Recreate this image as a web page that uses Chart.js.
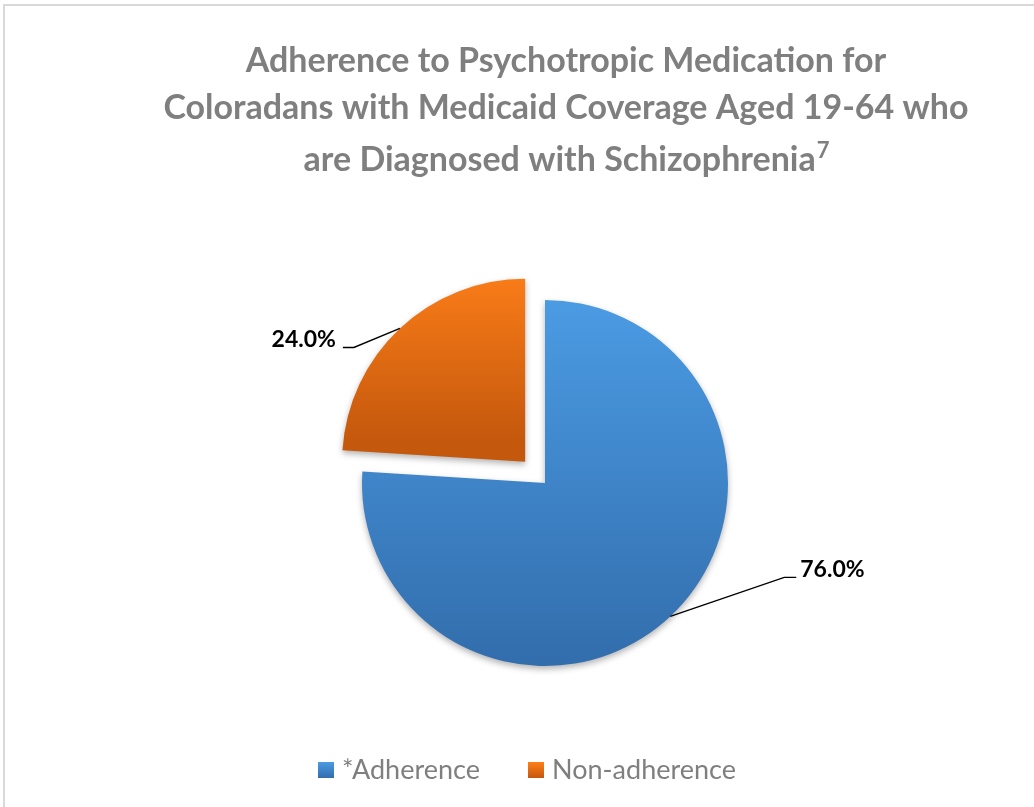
<!DOCTYPE html>
<html>
<head>
<meta charset="utf-8">
<script src="https://cdn.jsdelivr.net/npm/chart.js@4.4.1/dist/chart.umd.min.js"></script>
<style>
  html, body { margin: 0; padding: 0; background: #ffffff; }
  canvas { display: block; }
</style>
</head>
<body>
<canvas id="chart" width="1034" height="807"></canvas>
<script>
// Share of members, percent
const categories = ['*Adherence', 'Non-adherence'];
const shares = [76.0, 24.0];

const titleLines = [
  'Adherence to Psychotropic Medication for',
  'Coloradans with Medicaid Coverage Aged 19-64 who',
  'are Diagnosed with Schizophrenia'
];
const titleNote = '7';

// Slice fills run from a light top to a deeper bottom
const sliceTop = ['#4b9be3', '#ff8019'];
const sliceBottom = ['#326dac', '#c4580d'];
// Chart.js arc offset; the slice is pushed out by a quarter of this
const explode = [0, 116];

const FONT = 'Lato, "Open Sans", sans-serif';
const GREY = '#7f7f7f';

// Geometry of one slice as Chart.js lays it out
function sliceGeometry(chart, i) {
  const area = chart.chartArea;
  const cx = (area.left + area.right) / 2;
  const cy = (area.top + area.bottom) / 2;
  const r = (Math.min(area.right - area.left, area.bottom - area.top) - Math.max(...explode)) / 2;
  const total = shares.reduce((a, b) => a + b, 0);
  let start = -Math.PI / 2;
  for (let k = 0; k < i; k++) start += shares[k] / total * Math.PI * 2;
  const end = start + shares[i] / total * Math.PI * 2;
  const mid = (start + end) / 2;
  const shift = explode[i] / 4;
  return { cx: cx + Math.cos(mid) * shift, cy: cy + Math.sin(mid) * shift, r, start, end, mid };
}

function sliceFill(c) {
  const chart = c.chart;
  const i = c.dataIndex;
  if (!chart.chartArea || i === undefined) return sliceTop[i || 0];
  const g = sliceGeometry(chart, i);
  let top = g.cy, bottom = g.cy;
  for (let t = 0; t <= 60; t++) {
    const a = g.start + (g.end - g.start) * t / 60;
    const y = g.cy + Math.sin(a) * g.r;
    top = Math.min(top, y);
    bottom = Math.max(bottom, y);
  }
  const grad = chart.ctx.createLinearGradient(0, top, 0, bottom);
  grad.addColorStop(0, sliceTop[i]);
  grad.addColorStop(1, sliceBottom[i]);
  return grad;
}

// Soft drop shadow under the slices
const sliceShadow = {
  id: 'sliceShadow',
  beforeDatasetsDraw(chart) {
    const ctx = chart.ctx;
    ctx.save();
    ctx.shadowColor = 'rgba(0,0,0,0.30)';
    ctx.shadowBlur = 6;
    ctx.shadowOffsetX = 0;
    ctx.shadowOffsetY = 3;
  },
  afterDatasetsDraw(chart) {
    chart.ctx.restore();
  }
};

// Frame, title, value labels with leader lines, legend
const decorations = {
  id: 'decorations',
  beforeDraw(chart) {
    const ctx = chart.ctx;
    ctx.save();
    ctx.fillStyle = '#ffffff';
    ctx.fillRect(0, 0, chart.width, chart.height);
    ctx.strokeStyle = '#d9d9d9';
    ctx.lineWidth = 2;
    ctx.beginPath();
    ctx.moveTo(4, chart.height);
    ctx.lineTo(4, 5);
    ctx.lineTo(chart.width, 5);
    ctx.stroke();
    ctx.restore();
  },
  afterDraw(chart) {
    const ctx = chart.ctx;
    ctx.save();

    // Title
    const titleFont = 'bold 34px ' + FONT;
    const noteFont = 'bold 22px ' + FONT;
    const centre = 566;
    const baselines = [72, 119, 171];
    ctx.fillStyle = GREY;
    ctx.textBaseline = 'alphabetic';
    ctx.textAlign = 'center';
    ctx.font = titleFont;
    for (let k = 0; k < titleLines.length - 1; k++) {
      ctx.fillText(titleLines[k], centre, baselines[k]);
    }
    const last = titleLines[titleLines.length - 1];
    const wLast = ctx.measureText(last).width;
    ctx.font = noteFont;
    const wNote = ctx.measureText(titleNote).width;
    const x0 = centre - (wLast + wNote) / 2;
    ctx.textAlign = 'left';
    ctx.font = titleFont;
    ctx.fillText(last, x0, baselines[2]);
    ctx.font = noteFont;
    ctx.fillText(titleNote, x0 + wLast + 1, baselines[2] - 13);

    // Value labels
    const elbow = [[114, -39, 12], [-46, 19, -11]];
    ctx.strokeStyle = '#000000';
    ctx.lineWidth = 1.4;
    ctx.fillStyle = '#000000';
    ctx.font = 'bold 23px ' + FONT;
    ctx.textBaseline = 'middle';
    shares.forEach((v, i) => {
      const g = sliceGeometry(chart, i);
      const px = g.cx + Math.cos(g.mid) * g.r;
      const py = g.cy + Math.sin(g.mid) * g.r;
      const [dx, dy, run] = elbow[i];
      const ex = px + dx, ey = py + dy;
      ctx.beginPath();
      ctx.moveTo(px, py);
      ctx.lineTo(ex, ey);
      ctx.lineTo(ex + run, ey);
      ctx.stroke();
      const text = v.toFixed(1) + '%';
      if (run > 0) {
        ctx.textAlign = 'left';
        ctx.fillText(text, ex + run + 4, ey - 8);
      } else {
        ctx.textAlign = 'right';
        ctx.fillText(text, ex + run - 7, ey - 8);
      }
    });

    // Legend
    const boxX = [318, 528];
    const boxY = 762, box = 16;
    ctx.font = '27px ' + FONT;
    ctx.textAlign = 'left';
    ctx.textBaseline = 'middle';
    categories.forEach((name, i) => {
      const grad = ctx.createLinearGradient(0, boxY, 0, boxY + box);
      grad.addColorStop(0, sliceTop[i]);
      grad.addColorStop(1, sliceBottom[i]);
      ctx.fillStyle = grad;
      ctx.fillRect(boxX[i], boxY, box, box);
      ctx.fillStyle = GREY;
      ctx.fillText(name, boxX[i] + box + 8, boxY + box / 2);
    });

    ctx.restore();
  }
};

new Chart(document.getElementById('chart'), {
  type: 'pie',
  data: {
    labels: categories,
    datasets: [{
      data: shares,
      backgroundColor: sliceFill,
      borderWidth: 0,
      offset: explode
    }]
  },
  options: {
    responsive: false,
    animation: false,
    events: [],
    layout: { padding: { left: 304, right: 248, top: 242, bottom: 83 } },
    plugins: {
      legend: { display: false },
      title: { display: false },
      tooltip: { enabled: false }
    }
  },
  plugins: [decorations, sliceShadow]
});
</script>
</body>
</html>
